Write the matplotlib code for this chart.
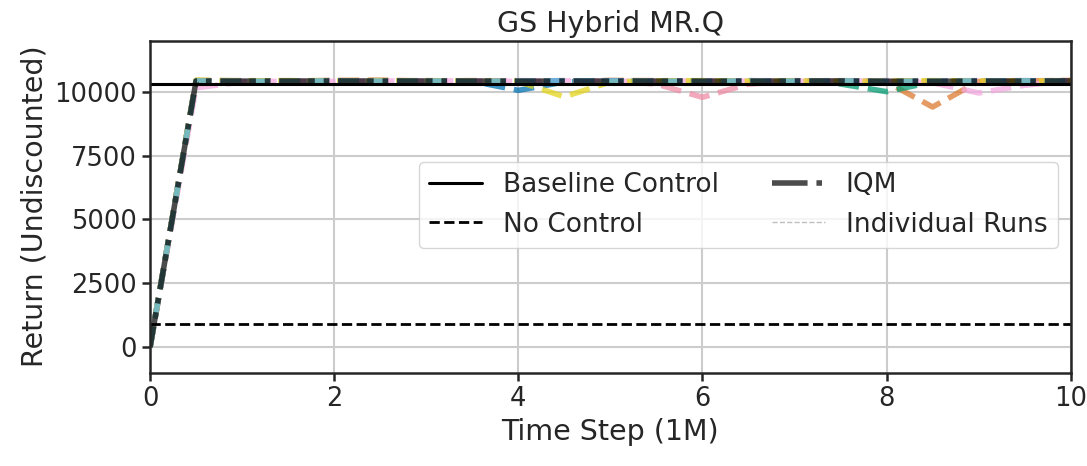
import numpy as np
import matplotlib.pyplot as plt
import seaborn as sns
from matplotlib.lines import Line2D

sns.set_theme(style="ticks")
plt.rcParams['font.family'] = ['DejaVu Sans']

# evaluation steps (1M) and returns of each run
steps = [0, 0.5, 1, 1.5, 2, 2.5, 3, 3.5, 4, 4.5, 5, 5.5, 6, 6.5, 7, 7.5, 8, 8.5, 9, 9.5, 10]

run_blue = [0, 10420, 10400, 10410, 10430, 10400, 10420, 10410, 10050, 10380, 10420, 10400, 10410, 10430, 10400, 10420, 10410, 10400, 10420, 10410, 10430]
run_orange = [0, 10400, 10430, 10420, 10440, 10450, 10420, 10430, 10420, 10410, 10440, 10430, 10420, 10410, 10430, 10420, 10380, 9400, 10400, 10420, 10440]
run_teal = [0, 10410, 10420, 10400, 10410, 10420, 10400, 10420, 10410, 10420, 10400, 10410, 10420, 10400, 10410, 10300, 10000, 10380, 10410, 10400, 10420]
run_salmon = [0, 10430, 10410, 10420, 10400, 10410, 10430, 10420, 10400, 10410, 10420, 10300, 9780, 10300, 10410, 10420, 10400, 10410, 10420, 10430, 10410]
run_purple = [0, 10400, 10420, 10430, 10410, 10400, 10420, 10410, 10430, 10420, 10400, 10420, 10410, 10430, 10420, 10410, 10400, 10420, 10430, 10410, 10420]
run_brown = [0, 10440, 10430, 10410, 10420, 10430, 10410, 10400, 10420, 10430, 10410, 10420, 10400, 10410, 10420, 10430, 10420, 10410, 10400, 10420, 10430]
run_pink = [0, 10150, 10380, 10410, 10400, 10420, 10410, 10430, 10400, 10420, 10410, 10400, 10420, 10410, 10400, 10420, 10410, 10350, 9950, 10250, 10440]
run_gray = [0, 10410, 10400, 10420, 10430, 10410, 10400, 10420, 10410, 10400, 10430, 10420, 10410, 10400, 10420, 10410, 10430, 10420, 10410, 10400, 10410]
run_yellow = [0, 10450, 10420, 10430, 10410, 10420, 10430, 10410, 10400, 9800, 10380, 10420, 10430, 10410, 10420, 10400, 10410, 10430, 10420, 10410, 10420]
run_lightblue = [0, 10420, 10410, 10400, 10420, 10410, 10420, 10400, 10410, 10430, 10420, 10410, 10400, 10420, 10410, 10420, 10400, 10410, 10420, 10430, 10410]

runs = [run_blue, run_orange, run_teal, run_salmon, run_purple,
        run_brown, run_pink, run_gray, run_yellow, run_lightblue]
run_colors = ['#0173b2', '#dd7a30', '#029e73', '#f08ca6', '#cc78bc',
              '#ca9161', '#f5a8e0', '#949494', '#e3d51c', '#56b4e9']

baseline_return = 10300
no_control_return = 926

# interquartile mean over runs
arr = np.sort(np.array(runs, dtype=float), axis=0)
n = arr.shape[0]
iqm = arr[n // 4: n - n // 4].mean(axis=0)

fig = plt.figure(figsize=(10.87, 4.66), dpi=100)
ax = fig.add_axes([0.138, 0.2, 0.847, 0.713])

for vals, c in zip(runs, run_colors):
    ax.plot(steps, vals, color=c, linestyle='--', linewidth=4, alpha=0.75)

ax.plot(steps, iqm, color='black', linestyle='-.', linewidth=4, alpha=0.7)
ax.axhline(baseline_return, color='black', linewidth=2.2)
ax.axhline(no_control_return, color='black', linewidth=2, linestyle='--')

ax.set_xlim(0, 10)
ax.set_ylim(-1000, 12000)
ax.set_yticks([0, 2500, 5000, 7500, 10000])
ax.grid(True, color='#cccccc', linewidth=1.5)
ax.tick_params(labelsize=18.5, width=1.8, length=6)
for s in ax.spines.values():
    s.set_linewidth(1.8)
    s.set_color('#262626')

ax.set_title('GS Hybrid MR.Q', fontsize=20.5)
ax.set_xlabel('Time Step (1M)', fontsize=20.5)
ax.set_ylabel('Return (Undiscounted)', fontsize=20.5)

handles = [
    Line2D([], [], color='black', linewidth=2.2),
    Line2D([], [], color='black', linewidth=2, linestyle='--'),
    Line2D([], [], color='black', linewidth=4, linestyle='-.', alpha=0.7),
    Line2D([], [], color='gray', linewidth=1, linestyle='--', alpha=0.5),
]
labels = ['Baseline Control', 'No Control', 'IQM', 'Individual Runs']
ax.legend(handles, labels, ncol=2, fontsize=19, loc='upper right',
          bbox_to_anchor=(0.986, 0.635), borderaxespad=0)

fig.savefig('out.png', dpi=100)
